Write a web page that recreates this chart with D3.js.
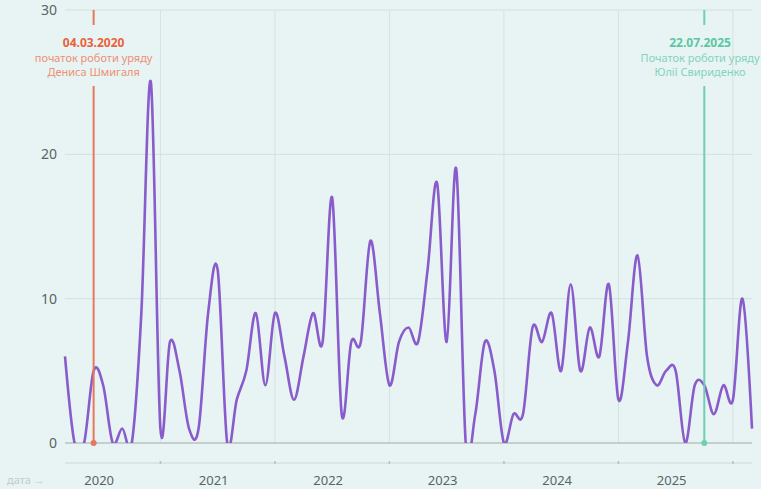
<!DOCTYPE html>
<html>
<head>
<meta charset="utf-8">
<script src="https://cdn.jsdelivr.net/npm/d3@7"></script>
<style>
  body { margin: 0; background: #e7f4f3; }
  svg { display: block; font-family: "Noto Sans", "Open Sans", sans-serif; }
</style>
</head>
<body>
<svg id="chart" width="761" height="489"></svg>
<script>
// monthly values, Dec 2019 .. Dec 2025
var months = d3.timeMonth.range(new Date(2019, 11, 1), new Date(2026, 0, 1));
var values = [6, 0, 0, 5, 4, 0, 1, 0, 9, 25,
              1, 7, 5, 1, 1, 9, 12, 0, 3, 5,
              9, 4, 9, 6, 3, 6, 9, 7, 17, 2,
              7, 7, 14, 9, 4, 7, 8, 7, 12, 18,
              7, 19, 0, 2, 7, 5, 0, 2, 2, 8,
              7, 9, 5, 11, 5, 8, 6, 11, 3, 7,
              13, 6, 4, 5, 5, 0, 4, 4, 2, 4,
              3, 10, 1];
var yTicks = [0, 10, 20, 30];
var yearLabels = ["2020", "2021", "2022", "2023", "2024", "2025"];

var eventDates = ["2020-03-04", "2025-07-22"];
var eventTitles = ["04.03.2020", "22.07.2025"];
var eventLines = [["початок роботи уряду", "Дениса Шмигаля"],
                  ["Початок роботи уряду", "Юлії Свириденко"]];

var fmt = d3.timeFormat("%Y-%m");
var data = months.map(function(m, i) { return {key: fmt(m), value: values[i]}; });

var svg = d3.select("#chart"),
    W = +svg.attr("width"),
    pLeft = 65, pRight = 752, pTop = 10, pBottom = 443;

var x = d3.scalePoint().domain(data.map(function(d) { return d.key; })).range([pLeft, pRight]);
var y = d3.scaleLinear().domain([0, 30]).range([pBottom, pTop]);

svg.append("rect").attr("width", W).attr("height", 489).attr("fill", "#e7f4f3");

// year boundaries sit on October in this chart, labels in the middle (April)
var tickKeys = yearLabels.map(function(yr) { return yr + "-10"; });

svg.append("g").selectAll("line")
    .data(tickKeys)
  .enter().append("line")
    .attr("x1", function(d) { return x(d); })
    .attr("x2", function(d) { return x(d); })
    .attr("y1", pTop).attr("y2", pBottom)
    .attr("stroke", "#d4e3e2").attr("stroke-width", 1);

svg.append("g").selectAll("line")
    .data(yTicks.filter(function(d) { return d > 0; }))
  .enter().append("line")
    .attr("x1", pLeft).attr("x2", pRight)
    .attr("y1", function(d) { return y(d); })
    .attr("y2", function(d) { return y(d); })
    .attr("stroke", "#d2e1e0").attr("stroke-width", 1);

svg.append("g").selectAll("text")
    .data(yTicks)
  .enter().append("text")
    .attr("x", 57)
    .attr("y", function(d) { return y(d); })
    .attr("dy", "0.36em")
    .attr("text-anchor", "end")
    .attr("font-size", 14)
    .attr("fill", "#5a6464")
    .text(function(d) { return d; });

// zero line
svg.append("line")
    .attr("x1", pLeft).attr("x2", pRight)
    .attr("y1", y(0)).attr("y2", y(0))
    .attr("stroke", "#b7c3c2").attr("stroke-width", 1.5);

// lower date axis
var xAxisY = 463;
svg.append("line")
    .attr("x1", pLeft).attr("x2", pRight)
    .attr("y1", xAxisY).attr("y2", xAxisY)
    .attr("stroke", "#ccd7d6").attr("stroke-width", 1.2);

svg.append("g").selectAll("line")
    .data(tickKeys)
  .enter().append("line")
    .attr("x1", function(d) { return x(d); })
    .attr("x2", function(d) { return x(d); })
    .attr("y1", xAxisY - 2).attr("y2", xAxisY + 1)
    .attr("stroke", "#b4c0bf").attr("stroke-width", 1.5);

svg.append("g").selectAll("text")
    .data(yearLabels)
  .enter().append("text")
    .attr("x", function(d) { return x(d + "-04") - 4; })
    .attr("y", 485)
    .attr("text-anchor", "middle")
    .attr("font-size", 13)
    .attr("fill", "#5a6464")
    .text(function(d) { return d; });

svg.append("text")
    .attr("x", 7).attr("y", 484)
    .attr("font-size", 11)
    .attr("fill", "#c2caca")
    .text("дата →");

// the series
svg.append("clipPath").attr("id", "clip")
  .append("rect")
    .attr("x", 0).attr("y", 0)
    .attr("width", W).attr("height", y(0));

var line = d3.line()
    .x(function(d) { return x(d.key); })
    .y(function(d) { return y(d.value); })
    .curve(d3.curveCardinal.tension(0));

svg.append("path")
    .datum(data)
    .attr("clip-path", "url(#clip)")
    .attr("fill", "none")
    .attr("stroke", "#8a5bcb")
    .attr("stroke-width", 2.6)
    .attr("stroke-linejoin", "round")
    .attr("d", line);

// government start markers
var lineColors = ["#e7775f", "#6fd0b1"],
    titleColors = ["#e8623d", "#5cc6a4"],
    textColors = ["#ef8f73", "#84d3bb"];

eventDates.forEach(function(ds, i) {
    var key = fmt(d3.timeParse("%Y-%m-%d")(ds)),
        ex = x(key);
    var g = svg.append("g");

    g.append("line")
        .attr("x1", ex).attr("x2", ex)
        .attr("y1", pTop).attr("y2", 25)
        .attr("stroke", lineColors[i]).attr("stroke-width", 2);
    g.append("line")
        .attr("x1", ex).attr("x2", ex)
        .attr("y1", 86).attr("y2", y(0))
        .attr("stroke", lineColors[i]).attr("stroke-width", 2);
    g.append("circle")
        .attr("cx", ex).attr("cy", y(0)).attr("r", 3)
        .attr("fill", lineColors[i]);

    var t = g.append("text")
        .attr("x", ex)
        .attr("text-anchor", "middle")
        .attr("font-size", 11);
    t.append("tspan")
        .attr("x", ex).attr("y", 47)
        .attr("font-weight", "bold")
        .attr("font-size", 12)
        .attr("fill", titleColors[i])
        .text(eventTitles[i]);
    eventLines[i].forEach(function(s, j) {
        t.append("tspan")
            .attr("x", ex).attr("y", 62 + j * 13.5)
            .attr("fill", textColors[i])
            .text(s);
    });

    // keep the label inside the picture
    var bb = t.node().getBBox();
    var shift = Math.min(0, (W - 1) - (bb.x + bb.width));
    t.selectAll("tspan").attr("x", ex + shift);
});
</script>
</body>
</html>
